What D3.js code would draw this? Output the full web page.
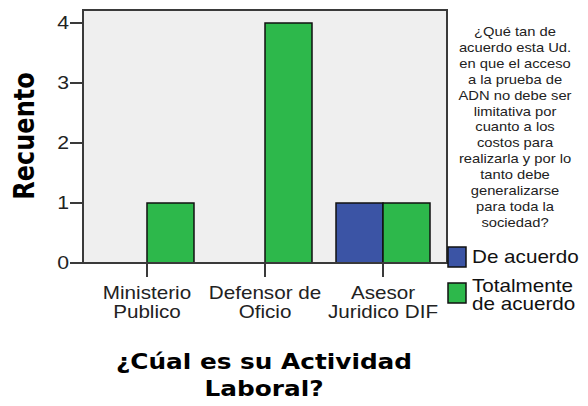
<!DOCTYPE html>
<html>
<head>
<meta charset="utf-8">
<script src="https://cdn.jsdelivr.net/npm/d3@7"></script>
<style>
  html, body { margin: 0; padding: 0; background: #ffffff; }
  svg { display: block; }
</style>
</head>
<body>
<svg id="chart" width="588" height="406"></svg>
<script>
// Counts by work activity and agreement level
const categories = [["Ministerio", "Publico"], ["Defensor de", "Oficio"], ["Asesor", "Juridico DIF"]];
const categoryKeys = ["Ministerio Publico", "Defensor de Oficio", "Asesor Juridico DIF"];
const seriesNames = ["De acuerdo", "Totalmente de acuerdo"];
const deAcuerdo = [0, 0, 1];
const totalmenteDeAcuerdo = [1, 4, 1];
const yTicks = [0, 1, 2, 3, 4];
const legendTitle = ["¿Qué tan de", "acuerdo esta Ud.", "en que el acceso", "a la prueba de",
  "ADN no debe ser", "limitativa por", "cuanto a los", "costos para",
  "realizarla y por lo", "tanto debe", "generalizarse", "para toda la", "sociedad?"];
const legendLabels = [["De acuerdo"], ["Totalmente", "de acuerdo"]];
const yTitle = "Recuento";
const xTitle = ["¿Cúal es su Actividad", "Laboral?"];

const colors = ["#3b54a5", "#2db84b"];
const SX = 1.18; // horizontal glyph stretch
const svg = d3.select("#chart");

const plot = { left: 83, right: 447, top: 10, bottom: 263 };

const y = d3.scaleLinear().domain([0, 4]).range([plot.bottom, 23]);
const x0 = d3.scaleBand().domain(categoryKeys).range([plot.left, plot.right])
  .paddingInner(0.2034).paddingOuter(0.144);
const x1 = d3.scaleBand().domain(seriesNames).range([0, x0.bandwidth()]);

const rows = categoryKeys.map((k, i) => ({ key: k, values: [deAcuerdo[i], totalmenteDeAcuerdo[i]] }));

function stretchedText(parent, x, yPos, str, opts) {
  return parent.append("text")
    .attr("transform", `translate(${x},${yPos}) scale(${SX},1)`)
    .attr("text-anchor", opts.anchor || "middle")
    .attr("font-family", opts.family || "'Liberation Sans', Arial, sans-serif")
    .attr("font-size", opts.size)
    .attr("font-weight", opts.weight || "normal")
    .attr("fill", opts.fill || "#000")
    .attr("dominant-baseline", opts.baseline || "auto")
    .text(str);
}

// plot background
svg.append("rect")
  .attr("x", plot.left).attr("y", plot.top)
  .attr("width", plot.right - plot.left).attr("height", plot.bottom - plot.top)
  .attr("fill", "#efefef");

// bars
const groups = svg.append("g").selectAll("g").data(rows).join("g")
  .attr("transform", d => `translate(${x0(d.key)},0)`);
groups.selectAll("rect")
  .data(d => d.values.map((v, j) => ({ name: seriesNames[j], v, j })).filter(e => e.v > 0))
  .join("rect")
  .attr("x", e => x1(e.name))
  .attr("y", e => y(e.v))
  .attr("width", x1.bandwidth())
  .attr("height", e => y(0) - y(e.v))
  .attr("fill", e => colors[e.j])
  .attr("stroke", "#111")
  .attr("stroke-width", 1.5);

// frame
svg.append("rect")
  .attr("x", plot.left).attr("y", plot.top)
  .attr("width", plot.right - plot.left).attr("height", plot.bottom - plot.top)
  .attr("fill", "none").attr("stroke", "#3a3a3a").attr("stroke-width", 2);

// y axis ticks
const yAxis = svg.append("g");
yAxis.selectAll("line").data(yTicks).join("line")
  .attr("x1", 70).attr("x2", plot.left)
  .attr("y1", d => y(d)).attr("y2", d => y(d))
  .attr("stroke", "#3a3a3a").attr("stroke-width", 2);
yTicks.forEach(t => {
  stretchedText(yAxis, 69, y(t), String(t), { anchor: "end", size: 18, baseline: "central", fill: "#222" });
});

// x axis ticks and labels
const xAxis = svg.append("g");
categoryKeys.forEach((k, i) => {
  const cx = x0(k) + x0.bandwidth() / 2;
  xAxis.append("line")
    .attr("x1", cx).attr("x2", cx).attr("y1", plot.bottom).attr("y2", 277)
    .attr("stroke", "#3a3a3a").attr("stroke-width", 2);
  categories[i].forEach((line, li) => {
    stretchedText(xAxis, cx, 299 + li * 19, line, { size: 17.5, fill: "#222" });
  });
});

// axis titles
svg.append("text")
  .attr("transform", `translate(34,136) scale(${SX},1) rotate(-90)`)
  .attr("text-anchor", "middle")
  .attr("font-family", "'DejaVu Sans', sans-serif")
  .attr("font-weight", "bold")
  .attr("font-size", 24)
  .text(yTitle);
xTitle.forEach((line, i) => {
  stretchedText(svg, 264, 369 + i * 27, line, { size: 21, weight: "bold", family: "'DejaVu Sans', sans-serif" });
});

// legend
const legend = svg.append("g");
legendTitle.forEach((line, i) => {
  stretchedText(legend, 515, 36 + i * 15.9, line, { size: 12.5, fill: "#222" });
});
const swatchY = [247, 283];
legendLabels.forEach((lines, i) => {
  legend.append("rect")
    .attr("x", 448).attr("y", swatchY[i]).attr("width", 18).attr("height", 20)
    .attr("fill", colors[i]).attr("stroke", "#111").attr("stroke-width", 1.5);
  lines.forEach((line, li) => {
    const base = lines.length === 1 ? 263 : 292;
    stretchedText(legend, 472, base + li * 18, line, { anchor: "start", size: 17.5, fill: "#111" });
  });
});
</script>
</body>
</html>
